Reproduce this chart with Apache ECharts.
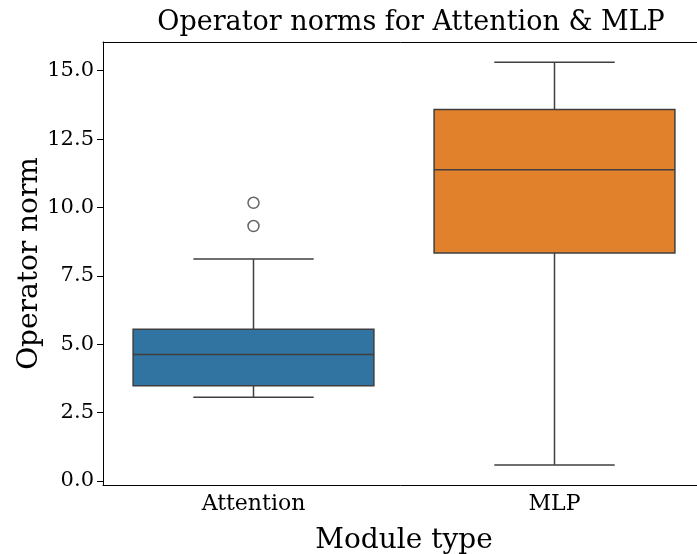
<!DOCTYPE html>
<html>
<head>
<meta charset="utf-8">
<script src="https://cdn.jsdelivr.net/npm/echarts@6/dist/echarts.min.js"></script>
<style>html,body{margin:0;padding:0;background:#fff;}#c{width:697px;height:554px;}</style>
</head>
<body>
<div id="c"></div>
<script>
const categories = ['Attention', 'MLP'];
const whiskerLow = [3.06, 0.585];
const q1 = [3.48, 8.33];
const median = [4.62, 11.38];
const q3 = [5.55, 13.58];
const whiskerHigh = [8.11, 15.31];
const outlierCat = ['Attention', 'Attention'];
const outlierVal = [10.17, 9.32];
const yTicks = [0, 2.5, 5, 7.5, 10, 12.5, 15];
const boxColors = ['#3274a1', '#e1812c'];

const FONT = '"DejaVu Serif", "Liberation Serif", serif';
const LINE = '#3f3f3f';

const boxData = categories.map((c, i) => [i, whiskerLow[i], q1[i], median[i], q3[i], whiskerHigh[i]]);
const outData = outlierCat.map((c, i) => [categories.indexOf(c), outlierVal[i]]);

const chart = echarts.init(document.getElementById('c'), null, {renderer: 'canvas'});
chart.setOption({
  animation: false,
  backgroundColor: '#fff',
  title: {
    text: 'Operator norms for Attention & MLP',
    left: 406, top: 4, textAlign: 'center',
    textStyle: {fontFamily: FONT, fontSize: 27, fontWeight: 'normal', color: '#000'}
  },
  grid: {left: 103, top: 42, width: 602, height: 443, show: false,
    containLabel: false, outerBoundsMode: 'none'},
  xAxis: [{
    type: 'category', data: categories, boundaryGap: true,
    name: 'Module type', nameLocation: 'middle', nameGap: 42, nameMoveOverlap: false,
    nameTextStyle: {fontFamily: FONT, fontSize: 28, color: '#000'},
    axisLine: {onZero: false, lineStyle: {color: '#000', width: 1}},
    axisTick: {alignWithLabel: true, length: 6, lineStyle: {color: '#000'}},
    axisLabel: {fontFamily: FONT, fontSize: 22, color: '#000', margin: 8},
    splitLine: {show: false}
  }, {
    type: 'category', data: categories, position: 'top',
    axisLine: {onZero: false, lineStyle: {color: '#000', width: 1}},
    axisTick: {show: false}, axisLabel: {show: false}, splitLine: {show: false}
  }],
  yAxis: {
    type: 'value', min: -0.15, max: 16.05,
    name: 'Operator norm', nameLocation: 'middle', nameGap: 59, nameMoveOverlap: false,
    nameTextStyle: {fontFamily: FONT, fontSize: 28, color: '#000'},
    axisLine: {show: true, onZero: false, lineStyle: {color: '#000', width: 1}},
    axisTick: {show: true, length: 6, customValues: yTicks, lineStyle: {color: '#000'}},
    axisLabel: {fontFamily: FONT, fontSize: 21, color: '#000', margin: 9, customValues: yTicks,
      formatter: v => v.toFixed(1)},
    splitLine: {show: false}
  },
  series: [{
    type: 'custom',
    data: boxData,
    encode: {x: 0, y: [1, 2, 3, 4, 5]},
    renderItem: function (params, api) {
      const i = api.value(0);
      const band = api.size([1, 0])[0];
      const bw = band * 0.8, cw = band * 0.4;
      const lo = api.coord([i, api.value(1)]);
      const b1 = api.coord([i, api.value(2)]);
      const md = api.coord([i, api.value(3)]);
      const b3 = api.coord([i, api.value(4)]);
      const hi = api.coord([i, api.value(5)]);
      const x = lo[0];
      const ls = {stroke: LINE, lineWidth: 1.5};
      return {
        type: 'group',
        children: [
          {type: 'line', shape: {x1: x, y1: lo[1], x2: x, y2: b1[1]}, style: ls},
          {type: 'line', shape: {x1: x, y1: b3[1], x2: x, y2: hi[1]}, style: ls},
          {type: 'line', shape: {x1: x - cw / 2, y1: lo[1], x2: x + cw / 2, y2: lo[1]}, style: ls},
          {type: 'line', shape: {x1: x - cw / 2, y1: hi[1], x2: x + cw / 2, y2: hi[1]}, style: ls},
          {type: 'rect', shape: {x: x - bw / 2, y: b3[1], width: bw, height: b1[1] - b3[1]},
            style: {fill: boxColors[i], stroke: LINE, lineWidth: 1.5}},
          {type: 'line', shape: {x1: x - bw / 2, y1: md[1], x2: x + bw / 2, y2: md[1]}, style: ls}
        ]
      };
    }
  }, {
    type: 'scatter',
    data: outData,
    symbol: 'circle', symbolSize: 11,
    itemStyle: {color: 'transparent', borderColor: LINE, borderWidth: 1.5}
  }]
});
</script>
</body>
</html>
